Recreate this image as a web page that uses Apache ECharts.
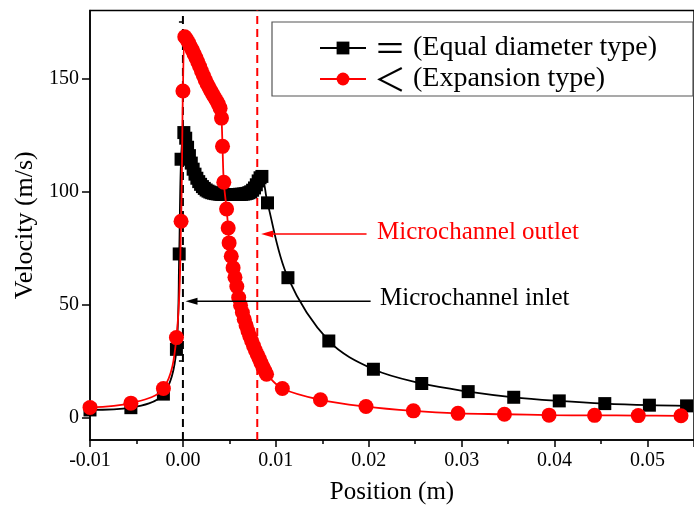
<!DOCTYPE html>
<html>
<head>
<meta charset="utf-8">
<script src="https://cdn.jsdelivr.net/npm/echarts@6/dist/echarts.min.js"></script>
<style>
  html, body { margin: 0; padding: 0; background: #fff; }
  #chart { width: 694px; height: 510px; }
</style>
</head>
<body>
<div id="chart"></div>
<script>
// Equal diameter channel: position (m) and velocity (m/s)
const posEqual = [
  -0.0100, -0.0056, -0.0021, -0.0007, -0.0004, -0.0002, 0.0001,
  0.0003, 0.0005, 0.0007, 0.0009, 0.0011, 0.0013, 0.0015, 0.0017, 0.0019, 0.0021,
  0.0023, 0.0025, 0.0027, 0.0029, 0.0031, 0.0033, 0.0035, 0.0037, 0.0039, 0.0041,
  0.0043, 0.0045, 0.0047, 0.0049, 0.0051, 0.0053, 0.0055, 0.0057, 0.0059, 0.0061,
  0.0063, 0.0065, 0.0067, 0.0069, 0.0071, 0.0073, 0.0075, 0.0077, 0.0079, 0.0081,
  0.0083, 0.0085,
  0.0091, 0.0113, 0.0157, 0.0205, 0.0257, 0.0307, 0.0356, 0.0405, 0.0454, 0.0502, 0.0542
];
const velEqual = [
  3.3, 4.3, 10.3, 30.1, 72.3, 114.2, 126.0,
  123.5, 119.5, 115.8, 112.5, 109.8, 107.6, 105.8, 104.3, 103.1, 102.1,
  101.3, 100.6, 100.1, 99.7, 99.4, 99.2, 99.0, 98.9, 98.8, 98.7,
  98.7, 98.6, 98.6, 98.6, 98.6, 98.6, 98.6, 98.6, 98.6, 98.7,
  98.7, 98.8, 98.9, 99.1, 99.4, 99.8, 100.5, 101.5, 102.9, 104.6,
  106.0, 106.6,
  94.9, 61.8, 33.8, 21.3, 15.0, 11.4, 8.9, 7.3, 6.1, 5.4, 5.1
];

// Expansion channel: position (m) and velocity (m/s)
const posExpand = [
  -0.0100, -0.0056, -0.0021, -0.0007, -0.0002, 0.0000, 0.0002,
  0.0004, 0.0006, 0.0008, 0.0010, 0.0012, 0.0014, 0.0016, 0.0018, 0.0020, 0.0022,
  0.0024, 0.0026, 0.0028, 0.0030, 0.0032, 0.0034, 0.0036, 0.0038, 0.0040,
  0.00415, 0.00426, 0.0044, 0.0047, 0.00487, 0.00497, 0.0052, 0.0054,
  0.0056, 0.0058, 0.0060, 0.0062, 0.0064, 0.0066, 0.0068, 0.0070, 0.0072,
  0.0074, 0.0076, 0.0078, 0.0080, 0.0082, 0.0084, 0.0086, 0.0088, 0.0090,
  0.0107, 0.0148, 0.0197, 0.0248, 0.0296, 0.0346, 0.0394, 0.0443, 0.0490, 0.0536
];
const velExpand = [
  4.4, 6.3, 12.8, 35.3, 86.8, 144.4, 168.4,
  167.3, 165.8, 164.2, 162.6, 160.8, 159.1, 157.2, 155.2, 153.2, 151.2,
  149.3, 147.6, 146.0, 144.5, 143.0, 141.6, 140.2, 138.7, 136.8,
  132.4, 119.9, 104.0, 92.2, 83.8, 77.2, 71.3, 66.2,
  62.0, 57.9, 53.0, 49.6, 46.4, 43.4, 40.7, 38.2, 35.9,
  33.8, 31.7, 29.7, 27.8, 26.0, 24.2, 22.4, 20.7, 19.1,
  12.8, 7.8, 4.8, 2.9, 1.8, 1.4, 1.0, 0.9, 0.8, 0.7
];

// Axis ticks
const yMajorTicks = [0, 50, 100, 150];
const yMinorTicks = [25, 75, 125, 175];

// Channel inlet / outlet positions (m) and the arrows pointing at them: [tail x, head x, y]
const inletPos = 0;
const outletPos = 0.008;
const inletArrow = [0.0202, 0.00092, 51.4];
const outletArrow = [0.01976, 0.00906, 81.1];

const seriesNames = ['\uFF1D (Equal diameter type)', '\uFF1C (Expansion type)'];
const noteOutlet = 'Microchannel outlet';
const noteInlet = 'Microchannel inlet';

const zip = (xs, ys) => xs.map((x, i) => [x, ys[i]]);

const serif = '"Liberation Serif", "Times New Roman", serif';
const chart = echarts.init(document.getElementById('chart'), null, { renderer: 'canvas' });

const yRange = { min: -10, max: 180 };

// vertical dashed marker spanning the whole plot height
function guideLine(x, color) {
  return {
    type: 'line', silent: true, z: 2,
    data: zip([x, x], [yRange.min, yRange.max]),
    symbol: 'none',
    lineStyle: { color: color, width: 2, type: [8, 5] }
  };
}

// horizontal arrow, head drawn as a rotated triangle at the second point
function arrowLine(a, color) {
  return {
    type: 'line', silent: true, z: 5,
    data: [
      { value: [a[0], a[2]], symbol: 'none' },
      { value: [a[1], a[2]] }
    ],
    symbol: 'triangle', symbolSize: [7, 12], symbolRotate: 90,
    showSymbol: true,
    itemStyle: { color: color },
    lineStyle: { color: color, width: 1.6 }
  };
}

chart.setOption({
  animation: false,
  backgroundColor: '#fff',
  grid: {
    left: 90, top: 10.5, right: -3, bottom: 68.3,
    show: true, borderColor: '#000', borderWidth: 1.5, backgroundColor: 'transparent'
  },
  legend: {
    orient: 'vertical',
    left: 314, top: 27,
    itemWidth: 46, itemHeight: 16, itemGap: -1,
    formatter: n => '{s|' + n.charAt(0) + '}' + n.slice(1),
    textStyle: {
      fontFamily: serif, fontSize: 28, color: '#000', lineHeight: 28,
      rich: {
        s: {
          fontFamily: '"Noto Sans CJK SC", sans-serif', fontSize: 32, lineHeight: 28,
          color: '#000', padding: [0, 0, 0, 3]
        }
      }
    },
    data: seriesNames
  },
  xAxis: {
    type: 'value',
    min: -0.01, max: 0.055, interval: 0.01,
    name: 'Position (m)', nameLocation: 'middle', nameGap: 40,
    nameTextStyle: { fontFamily: serif, fontSize: 25, color: '#000' },
    axisLine: { show: true, onZero: false, lineStyle: { color: '#000', width: 1.5 } },
    axisTick: { show: true, length: 7, lineStyle: { color: '#000', width: 1.5 } },
    minorTick: { show: true, splitNumber: 2, length: 4, lineStyle: { color: '#000', width: 1.5 } },
    splitLine: { show: false },
    axisLabel: {
      fontFamily: serif, fontSize: 20, color: '#000', margin: 11,
      showMaxLabel: false,
      formatter: v => v.toFixed(2)
    }
  },
  yAxis: [{
    type: 'value',
    min: yRange.min, max: yRange.max,
    name: 'Velocity (m/s)', nameLocation: 'middle', nameGap: 41,
    nameTextStyle: { fontFamily: serif, fontSize: 26, color: '#000' },
    axisLine: { show: true, onZero: false, lineStyle: { color: '#000', width: 1.5 } },
    axisTick: { show: true, length: 8, customValues: yMajorTicks, lineStyle: { color: '#000', width: 1.5 } },
    splitLine: { show: false },
    axisLabel: { fontFamily: serif, fontSize: 20, color: '#000', margin: 11, customValues: yMajorTicks }
  }, {
    type: 'value',
    min: yRange.min, max: yRange.max,
    position: 'left',
    axisLine: { show: false },
    axisTick: { show: true, length: 4, customValues: yMinorTicks, lineStyle: { color: '#000', width: 1.5 } },
    splitLine: { show: false },
    axisLabel: { show: false }
  }],
  series: [
    guideLine(inletPos, '#000'),
    guideLine(outletPos, '#ff0000'),
    {
      name: seriesNames[0],
      type: 'line',
      data: zip(posEqual, velEqual),
      smooth: 0.35,
      symbol: 'rect', symbolSize: 13,
      itemStyle: { color: '#000' },
      lineStyle: { color: '#000', width: 1.8 },
      z: 3
    }, {
      name: seriesNames[1],
      type: 'line',
      data: zip(posExpand, velExpand),
      smooth: 0.35,
      symbol: 'circle', symbolSize: 15,
      itemStyle: { color: '#ff0000' },
      lineStyle: { color: '#ff0000', width: 1.8 },
      z: 4
    },
    arrowLine(inletArrow, '#000'),
    arrowLine(outletArrow, '#ff0000')
  ],
  graphic: [
    {
      type: 'rect', z: 0, silent: true,
      shape: { x: 272, y: 22, width: 421, height: 74 },
      style: { fill: '#fff', stroke: '#555', lineWidth: 1.2 }
    },
    {
      type: 'text', z: 10, silent: true,
      left: 377, top: 220,
      style: { text: noteOutlet, fill: '#ff0000', font: '25px ' + serif }
    },
    {
      type: 'text', z: 10, silent: true,
      left: 380, top: 286,
      style: { text: noteInlet, fill: '#000', font: '25px ' + serif }
    }
  ]
});
</script>
</body>
</html>
